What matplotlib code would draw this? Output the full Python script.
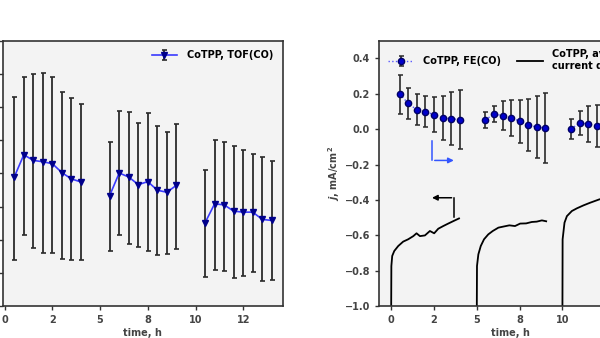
import matplotlib
matplotlib.use('Agg')
import matplotlib.pyplot as plt
import matplotlib.ticker as ticker
import numpy as np

# --- datos: TOF(CO) (panel izquierdo) ---
t_tof = [0.5, 1.0, 1.5, 2.0, 2.5, 3.0, 3.5, 4.0,
         5.5, 6.0, 6.5, 7.0, 7.5, 8.0, 8.5, 9.0,
         10.5, 11.0, 11.5, 12.0, 12.5, 13.0, 13.5, 14.0]
tof = [3.89, 4.56, 4.39, 4.35, 4.29, 4.02, 3.83, 3.74,
       3.33, 4.01, 3.89, 3.66, 3.75, 3.49, 3.43, 3.64,
       2.51, 3.08, 3.05, 2.86, 2.83, 2.83, 2.61, 2.58]
tof_err_lo = [2.49, 2.41, 2.64, 2.74, 2.69, 2.60, 2.44, 2.35,
              1.68, 1.88, 2.01, 1.87, 2.08, 1.95, 1.87, 1.91,
              1.65, 1.99, 1.98, 2.01, 1.92, 1.79, 1.85, 1.79]
tof_err_hi = [2.42, 2.34, 2.60, 2.68, 2.61, 2.43, 2.44, 2.35,
              1.62, 1.88, 1.97, 1.87, 2.07, 1.95, 1.83, 1.85,
              1.60, 1.93, 1.91, 1.97, 1.88, 1.75, 1.89, 1.78]

# --- datos: FE(CO) (panel derecho) ---
t_fe = t_tof
fe = [0.198, 0.145, 0.109, 0.098, 0.082, 0.062, 0.060, 0.053,
      0.053, 0.085, 0.077, 0.064, 0.045, 0.024, 0.011, 0.007,
      0.000, 0.036, 0.028, 0.019, 0.015, 0.012, 0.010, 0.008]
fe_err = [0.110, 0.087, 0.088, 0.088, 0.100, 0.123, 0.150, 0.166,
          0.045, 0.047, 0.082, 0.102, 0.122, 0.148, 0.177, 0.198,
          0.058, 0.068, 0.100, 0.120, 0.130, 0.140, 0.150, 0.160]

# --- datos: densidad de corriente media ---
t_j1 = [0.0, 0.01, 0.06, 0.18, 0.41, 0.70, 0.99, 1.29, 1.48, 1.68, 1.97,
        2.26, 2.51, 2.75, 3.04, 3.33, 3.63, 3.96]
j1 = [-1.0, -0.774, -0.717, -0.689, -0.661, -0.636, -0.623, -0.605, -0.589,
      -0.605, -0.601, -0.576, -0.589, -0.563, -0.548, -0.534, -0.520, -0.505]
t_j2 = [5.0, 5.01, 5.09, 5.23, 5.42, 5.67, 5.93, 6.26, 6.55, 6.90, 7.23,
        7.53, 7.88, 8.21, 8.50, 8.80, 9.05]
j2 = [-1.0, -0.774, -0.708, -0.661, -0.623, -0.595, -0.576, -0.557, -0.551,
      -0.544, -0.548, -0.534, -0.533, -0.525, -0.523, -0.516, -0.521]
t_j3 = [10.0, 10.01, 10.12, 10.26, 10.55, 10.84, 11.23, 11.62, 12.16,
        12.8, 13.4, 14.0]
j3 = [-1.0, -0.623, -0.529, -0.492, -0.463, -0.448, -0.431, -0.416, -0.397,
      -0.385, -0.375, -0.368]

x_ticks = [0, 2.5, 5, 7.5, 10, 12.5]

plt.rcParams['font.family'] = ['DejaVu Sans']
plt.rcParams['font.size'] = 7
plt.rcParams['font.weight'] = 'bold'

fig = plt.figure(figsize=(6, 3.38), dpi=100, facecolor='white')
ax1 = fig.add_axes([0.005, 0.0947, 0.4662, 0.7849])
ax2 = fig.add_axes([0.632, 0.0947, 0.4367, 0.7849])

for ax in (ax1, ax2):
    ax.set_facecolor('#f3f3f3')
    for s in ax.spines.values():
        s.set_color('#333333')
        s.set_linewidth(1.2)
    ax.tick_params(direction='out', length=3, width=1, colors='#333333',
                   labelsize=7, labelcolor='#444444')
    ax.set_xticks(x_ticks)
    ax.xaxis.set_major_formatter(ticker.FormatStrFormatter('%.0f'))
    ax.set_xlabel('time, h', fontsize=7, fontweight='bold', color='#444444', labelpad=2)

# panel izquierdo
estilo_tof = dict(fmt='v-', color='#3a3aff', lw=1.2, ms=4.5, mfc='#00008b', mec='#00008b',
                  ecolor='#2a2a2a', elinewidth=1.3, capsize=1.8, capthick=1.2)
ax1.errorbar(t_tof[:8], tof[:8], yerr=[tof_err_lo[:8], tof_err_hi[:8]],
             label='CoTPP, TOF(CO)', **estilo_tof)
for a, b in [(8, 16), (16, 24)]:
    ax1.errorbar(t_tof[a:b], tof[a:b], yerr=[tof_err_lo[a:b], tof_err_hi[a:b]], **estilo_tof)
ax1.set_xlim(-0.09, 14.57)
ax1.set_ylim(0, 8)
ax1.yaxis.set_major_locator(ticker.MultipleLocator(1))
ax1.tick_params(axis='y', labelleft=False)
ax1.legend(loc='upper right', frameon=False, fontsize=7, handlelength=2.6,
           handletextpad=1.0, borderaxespad=0.6)

# panel derecho
estilo_fe = dict(fmt='o:', color='#5a5aff', lw=1.0, ms=4.5, mfc='#0000cc', mec='#000066',
                 ecolor='#2a2a2a', elinewidth=1.2, capsize=1.8, capthick=1.1)
h_fe = ax2.errorbar(t_fe[:8], fe[:8], yerr=fe_err[:8], label='CoTPP, FE(CO)', **estilo_fe)
for a, b in [(8, 16), (16, 24)]:
    ax2.errorbar(t_fe[a:b], fe[a:b], yerr=fe_err[a:b], **estilo_fe)
h_j, = ax2.plot(t_j1, j1, color='black', lw=1.3, label='CoTPP, average\ncurrent density')
ax2.plot(t_j2, j2, color='black', lw=1.3)
ax2.plot(t_j3, j3, color='black', lw=1.3)

# flechas indicando el eje
ax2.plot([3.67, 3.67], [-0.495, -0.388], color='black', lw=1.1)
ax2.annotate('', xy=(2.22, -0.388), xytext=(3.69, -0.388),
             arrowprops=dict(arrowstyle='-|>', color='black', lw=1.1, mutation_scale=8))
ax2.plot([2.40, 2.40], [-0.066, -0.177], color='#3355ff', lw=1.1)
ax2.annotate('', xy=(3.82, -0.177), xytext=(2.38, -0.177),
             arrowprops=dict(arrowstyle='-|>', color='#3355ff', lw=1.1, mutation_scale=8))

ax2.set_xlim(-0.70, 14.6)
ax2.set_ylim(-1.0, 0.5)
ax2.yaxis.set_major_locator(ticker.MultipleLocator(0.2))
ax2.set_ylabel(r'$\mathit{j}$, mA/cm$^2$', fontsize=7, fontweight='bold',
               color='#444444', labelpad=2)
ax2.legend(handles=[h_fe, h_j], loc='upper left', ncol=2, frameon=False, fontsize=7,
           handlelength=2.6, handletextpad=1.0, columnspacing=1.7, borderaxespad=0.5)

fig.savefig('out.png', dpi=100)
